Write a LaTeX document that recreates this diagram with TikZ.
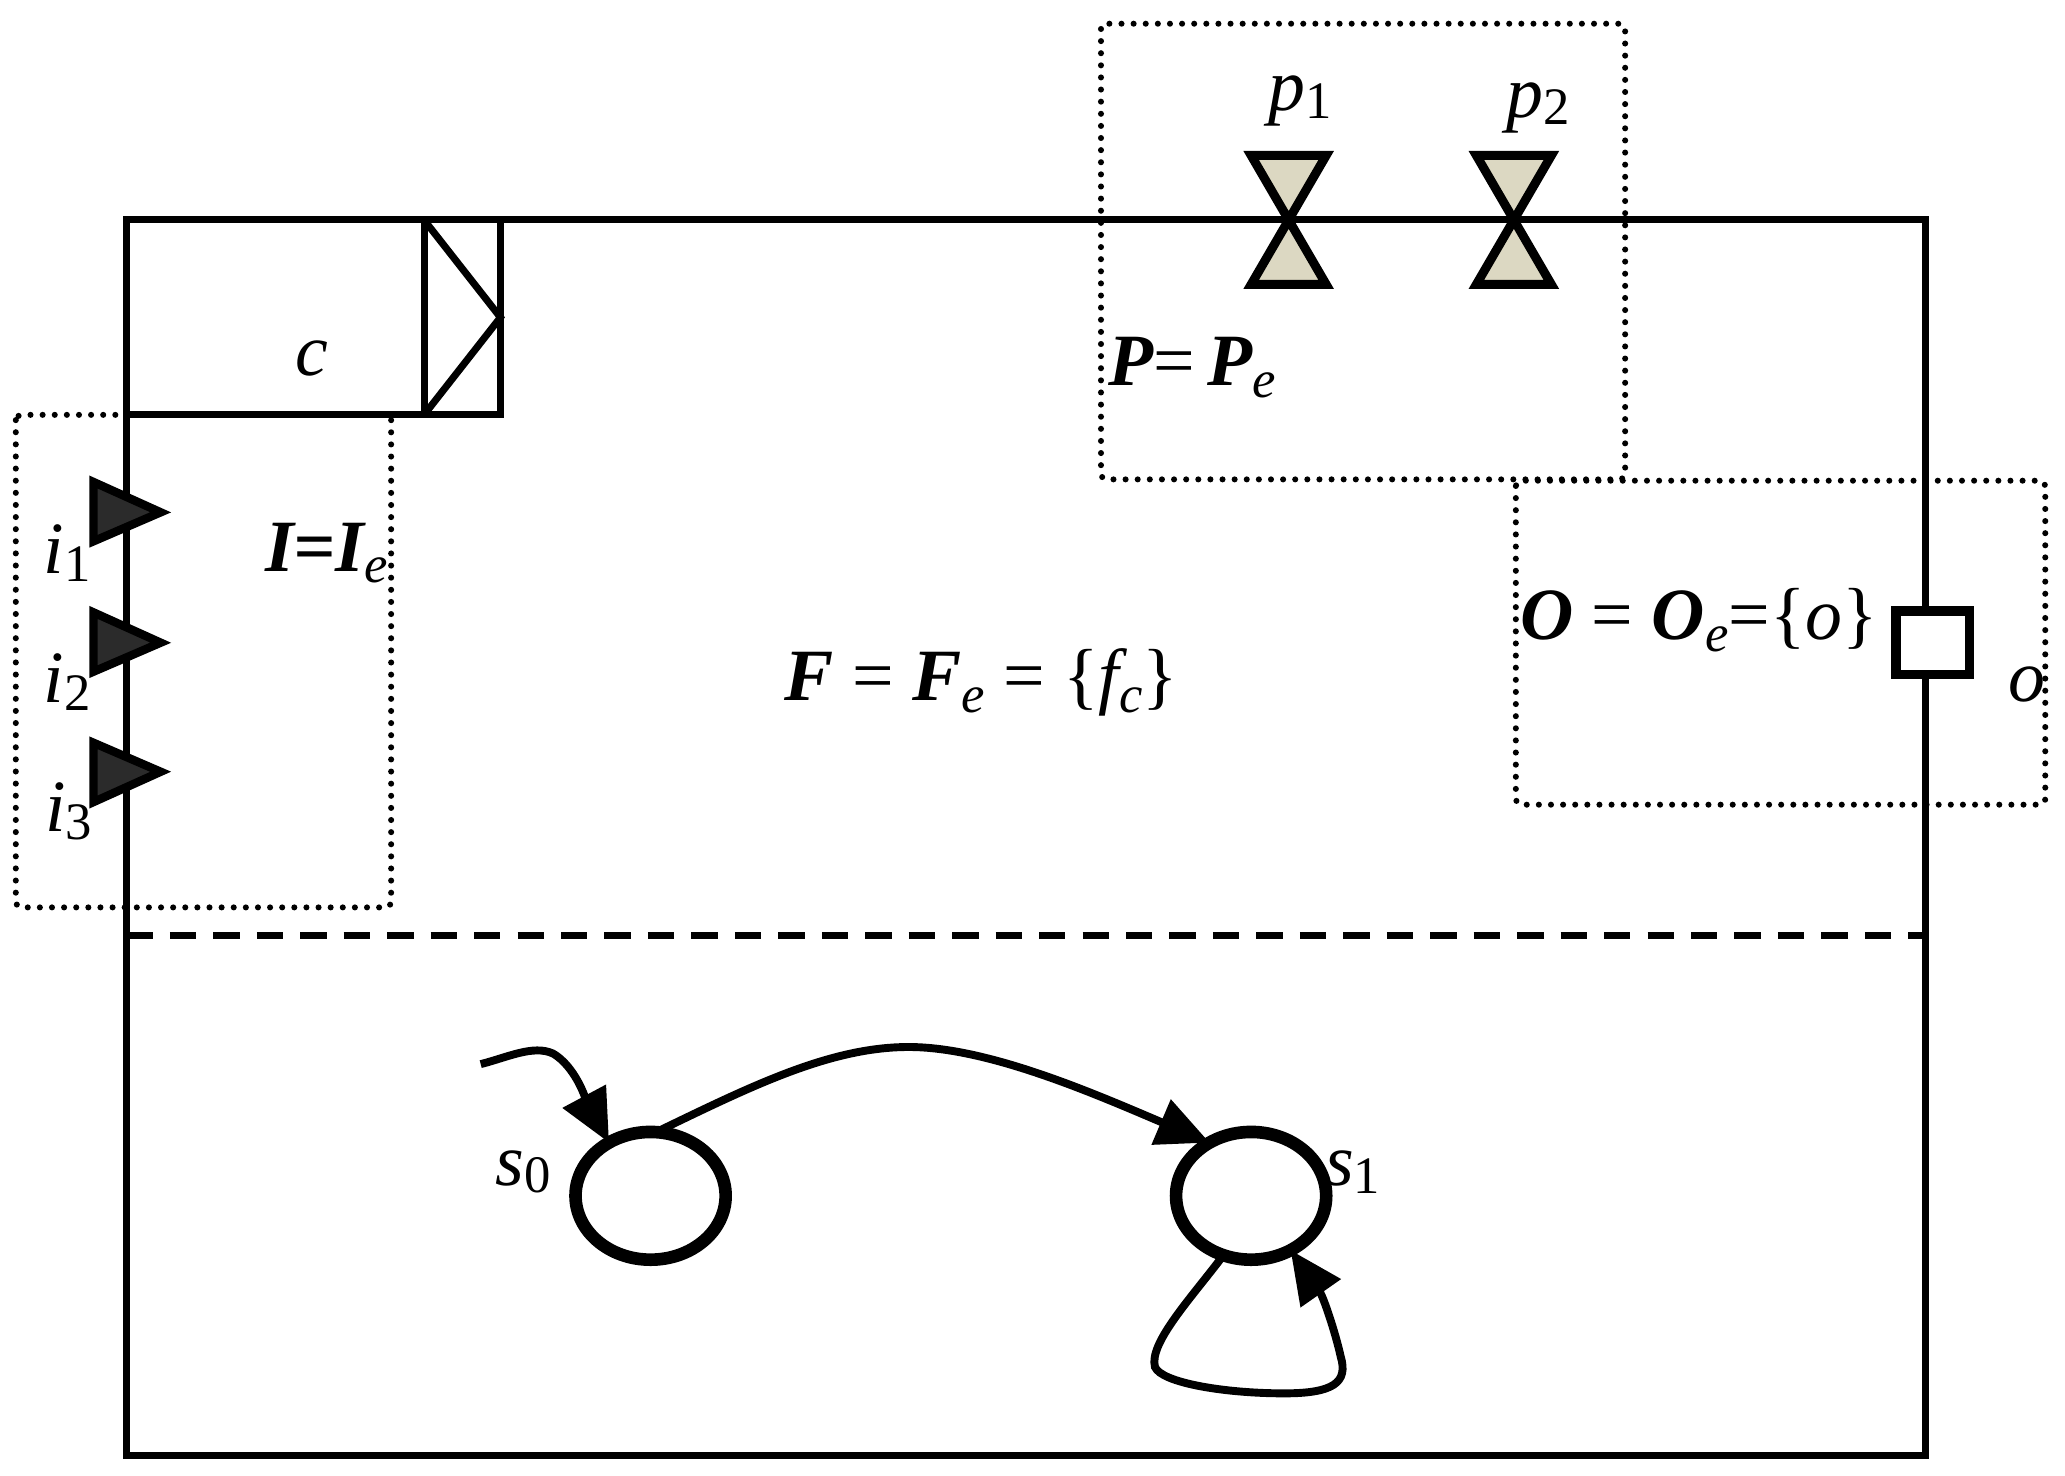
\documentclass[tikz,border=0pt]{standalone}
\usepackage{fontspec}
\setmainfont{Liberation Serif}
\usetikzlibrary{arrows.meta,shapes.geometric}
\newcommand{\subd}[1]{\raisebox{-.1em}{\fontsize{20}{22}\selectfont\upshape #1}}
\newcommand{\sube}[1]{\raisebox{-.16em}{\fontsize{20}{22}\selectfont\itshape\mdseries #1}}
\definecolor{tan}{HTML}{DCD8C2}
\definecolor{dark}{HTML}{2B2B2B}
\tikzset{
  wall/.style={draw=black,line width=2.7pt,line join=miter},
  grp/.style={draw=black,line width=2.3pt,line cap=round,dash pattern=on 0pt off 4.6pt,rounded corners=2pt},
  inport/.style={draw=black,fill=dark,line width=3.2pt,line join=miter,miter limit=10},
  bowtie/.style={draw=black,fill=tan,line width=3.4pt,line join=miter,miter limit=10},
  state/.style={ellipse,draw=black,line width=4.8pt,minimum width=57pt,minimum height=48.5pt,inner sep=0pt,outer sep=0pt},
  outport/.style={rectangle,draw=black,fill=white,line width=3.6pt,minimum width=28pt,minimum height=24pt,inner sep=0pt,outer sep=0pt},
  flow/.style={draw=black,line width=3pt,-{Triangle[length=20pt,width=18pt]}},
  lab/.style={inner sep=0pt,outer sep=0pt,font=\fontsize{28}{32}\selectfont},
}
\begin{document}
\begin{tikzpicture}[x=.5pt,y=-.5pt]
\useasboundingbox (0,0) rectangle (1568,1120);
% dotted groups
\draw[grp] (12,315) rectangle (297,689);
\draw[grp] (836,18) rectangle (1234,364);
\draw[grp] (1151,365) rectangle (1553,611);
% frame
\draw[wall] (96,167) rectangle (1462,1105);
\draw[wall,dash pattern=on 10pt off 6.5pt] (96,710) -- (1462,710);
% clock box
\draw[wall] (96,315) -- (380,315) -- (380,167);
\draw[wall] (322,167) -- (322,315);
\draw[wall] (322,167) -- (380,241) -- (322,315);
% inputs
\draw[inport] (71,366) -- (122,389) -- (71,411) -- cycle;
\draw[inport] (71,465) -- (122,488) -- (71,510) -- cycle;
\draw[inport] (71,564) -- (122,586) -- (71,609) -- cycle;
% bowties
\draw[bowtie] (950,118) -- (1007,118) -- (950,216) -- (1007,216) -- cycle;
\draw[bowtie] (1121,118) -- (1178,118) -- (1121,216) -- (1178,216) -- cycle;
% output
\node[outport] (oport) at (1467.5,488) {};
% states
\node[state] (s0) at (494,908) {};
\node[state] (s1) at (950,908) {};
\coordinate (init) at (365,808);
\draw[flow] (init) .. controls (385,803) and (405,793) .. (420,800) .. controls (437,810) and (445,835) .. (s0.128);
\draw[flow] (s0.85) .. controls (570,825) and (630,795) .. (690,795) .. controls (750,795) and (830,830) .. (s1.128);
\draw[flow] (s1.245) .. controls (905,985) and (872,1020) .. (877,1038) .. controls (882,1050) and (930,1058) .. (975,1058) .. controls (1012,1058) and (1024,1050) .. (1018,1030) .. controls (1014,1012) and (1005,985) .. (s1.306);
% labels
\node[lab] (lc) at (237,272) {\itshape c};
\node[lab] (li1) at (51,420) {\itshape i\subd{1}};
\node[lab] (li2) at (51,518) {\itshape i\subd{2}};
\node[lab] (li3) at (52,616) {\itshape i\subd{3}};
\node[lab] (lI) at (248,420) {\bfseries\itshape I=I\sube{e}};
\node[lab] (lp1) at (987,77) {\itshape p\subd{1}};
\node[lab] (lp2) at (1168,82) {\itshape p\subd{2}};
\node[lab] (lP) at (905,279) {\bfseries\itshape P\mdseries\upshape=\,\bfseries\itshape P\sube{e}};
\node[lab] (lO) at (1290,471) {\bfseries\itshape O\mdseries\upshape\ =\ \bfseries\itshape O\sube{e}\mdseries\upshape=\{\itshape o\upshape\}};
\node[lab] (lF) at (745,518) {\bfseries\itshape F\mdseries\upshape\ =\ \bfseries\itshape F\sube{e}\mdseries\upshape\ =\ \{\itshape f\sube{c}\upshape\}};
\node[lab] (lo) at (1539,520) {\itshape o};
\node[lab] (ls0) at (397,890) {\itshape s\subd{0}};
\node[lab] (ls1) at (1027,890) {\itshape s\subd{1}};
\end{tikzpicture}
\end{document}
